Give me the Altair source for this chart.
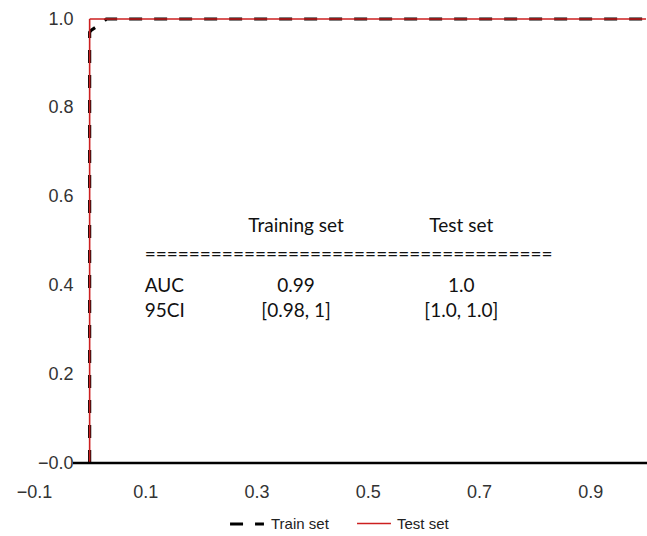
import altair as alt
import pandas as pd

# ---- data ----
series_names = ["Train set", "Test set"]
series_colors = ["#000000", "#cc1f1f"]
series_dash = [[13, 12], [1, 0]]
series_width = [3.2, 1.6]

train_fpr = [0.0, 0.0, 0.003, 0.019, 0.03, 1.0]
train_tpr = [0.0, 0.97, 0.975, 0.988, 1.0, 1.0]
test_fpr = [0.0, 0.0, 1.0]
test_tpr = [0.0, 1.0, 1.0]

x_ticks = [-0.1, 0.1, 0.3, 0.5, 0.7, 0.9]
y_ticks = [0.0, 0.2, 0.4, 0.6, 0.8, 1.0]

table_header = ["Training set", "Test set"]
table_rule = "=" * 37
row_names = ["AUC", "95CI"]
train_stats = ["0.99", "[0.98, 1]"]
test_stats = ["1.0", "[1.0, 1.0]"]

# ---- layout (annotation placement, in axis units) ----
col_x = [0.371, 0.668]
left_x = 0.099
header_y = 0.534
rule_y = 0.468
row_y = [0.399, 0.342]

roc = pd.DataFrame(
    {"fpr": train_fpr + test_fpr,
     "tpr": train_tpr + test_tpr,
     "series": ["Train set"] * len(train_fpr) + ["Test set"] * len(test_fpr),
     "order": list(range(len(train_fpr))) + list(range(len(test_fpr)))}
)

xs = alt.Scale(domain=[-0.1, 1.0], nice=False, zero=False)
ys = alt.Scale(domain=[0.0, 1.0], nice=False, zero=False)

x_axis = alt.Axis(values=x_ticks, format=".1f", domain=False, ticks=False, grid=False,
                  labelFont="Liberation Sans", labelFontSize=18, labelColor="#333333",
                  labelPadding=20, labelFlush=False, labelOverlap=False, title=None)
y_axis = alt.Axis(values=y_ticks, labelExpr="datum.value == 0 ? '\u22120.0' : format(datum.value, '.1f')",
                  domain=False, ticks=False, tickSize=0, grid=False, offset=-39,
                  labelFont="Liberation Sans", labelFontSize=18, labelColor="#333333",
                  labelPadding=0, labelFlush=False, labelOverlap=False, title=None)

X = lambda f: alt.X(f, scale=xs, axis=x_axis)
Y = lambda f: alt.Y(f, scale=ys, axis=y_axis)

enc = dict(
    x=X("fpr:Q"),
    y=Y("tpr:Q"),
    order="order:Q",
    color=alt.Color("series:N", scale=alt.Scale(domain=series_names, range=series_colors), title=None),
    strokeDash=alt.StrokeDash("series:N", scale=alt.Scale(domain=series_names, range=series_dash), title=None),
    strokeWidth=alt.StrokeWidth("series:N", scale=alt.Scale(domain=series_names, range=series_width), title=None),
)

base = alt.Chart(roc)
train_line = base.mark_line().encode(**enc).transform_filter(alt.datum.series == "Train set")
test_line = base.mark_line().encode(**enc).transform_filter(alt.datum.series == "Test set")

zero_line = alt.Chart(pd.DataFrame({"tpr": [0.0]})).mark_rule(color="black", strokeWidth=2.5).encode(
    x=alt.value(39), x2=alt.value(613), y=Y("tpr:Q")
)

tbl_font = "Lato"
tbl_size = 19
tbl_color = "#111111"

def text_layer(df, align):
    return alt.Chart(df).mark_text(font=tbl_font, fontSize=tbl_size, color=tbl_color, align=align,
                                   baseline="middle").encode(
        x=X("fpr:Q"), y=Y("tpr:Q"), text="t:N")

hdr = pd.DataFrame({"t": table_header, "fpr": col_x, "tpr": [header_y] * 2})
rl = pd.DataFrame({"t": [table_rule], "fpr": [left_x], "tpr": [rule_y]})
names = pd.DataFrame({"t": row_names, "fpr": [left_x] * 2, "tpr": row_y})
vals = pd.DataFrame({"t": train_stats + test_stats,
                     "fpr": [col_x[0]] * 2 + [col_x[1]] * 2,
                     "tpr": row_y + row_y})

chart = alt.layer(
    train_line, test_line, zero_line,
    text_layer(hdr, "center"), text_layer(rl, "left"),
    text_layer(names, "left"), text_layer(vals, "center"),
).properties(
    width=612, height=444,
    autosize=alt.AutoSizeParams(type="none"),
    padding={"left": 34, "top": 19, "right": 1, "bottom": 73},
    background="white",
).configure_view(stroke=None).configure_legend(
    orient="none", legendX=194, legendY=486, direction="horizontal",
    symbolType="stroke", symbolSize=1150, labelFont="Liberation Sans", labelFontSize=15,
    labelColor="#222222", labelOffset=5, columnPadding=24, title=None,
)

chart.save("out.html", embed_options={"renderer": "svg", "actions": False})
